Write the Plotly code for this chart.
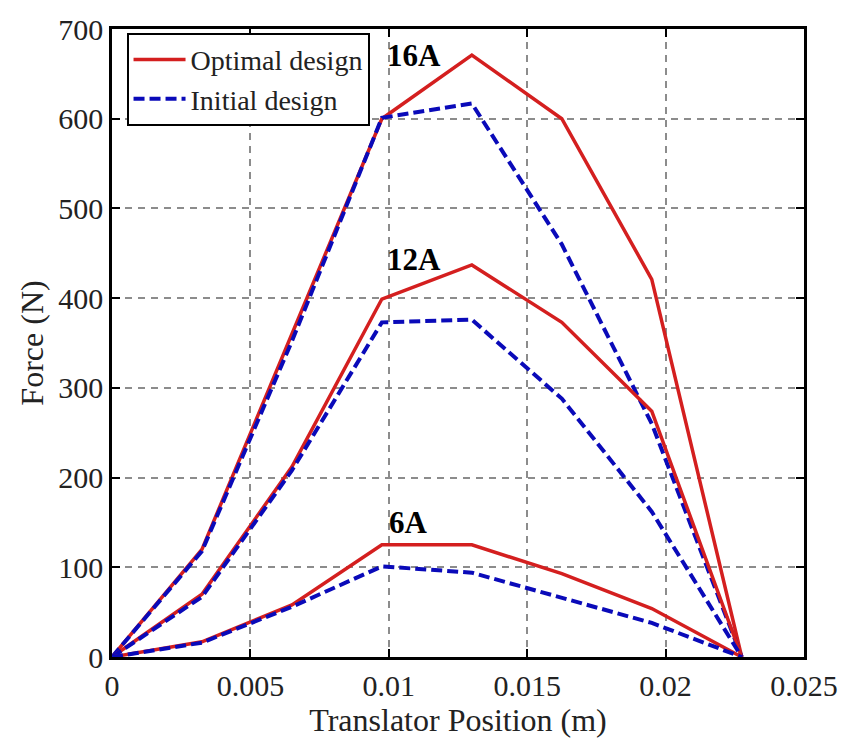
import plotly.graph_objects as go

# Data
position = [0, 0.00325, 0.0065, 0.00975, 0.013, 0.01625, 0.0195, 0.02275]
opt_16A = [0, 120, 360, 600, 671, 600, 421, 0]
ini_16A = [0, 118, 352, 601, 617, 460, 260, 0]
opt_12A = [0, 70, 212, 399, 437, 373, 274, 0]
ini_12A = [0, 67, 208, 373, 376, 288, 162, 0]
opt_6A = [0, 17, 58, 125, 125, 93, 54, 0]
ini_6A = [0, 16, 56, 101, 94, 66, 38, 0]

x_ticks = [0, 0.005, 0.01, 0.015, 0.02, 0.025]
x_tick_text = ["0", "0.005", "0.01", "0.015", "0.02", "0.025"]
y_ticks = [0, 100, 200, 300, 400, 500, 600, 700]

labels = ["16A", "12A", "6A"]
label_x = [0.0109, 0.0109, 0.0107]
label_y = [670, 443, 150]

RED = "#d41f1f"
BLUE = "#0a0ab9"
FONT = "Liberation Serif"

fig = go.Figure()
series = [(opt_16A, ini_16A), (opt_12A, ini_12A), (opt_6A, ini_6A)]
for i, (opt, ini) in enumerate(series):
    fig.add_trace(go.Scatter(
        x=position, y=opt, mode="lines", name="Optimal design",
        line=dict(color=RED, width=3.5), showlegend=(i == 0),
        legendgroup="opt"))
    fig.add_trace(go.Scatter(
        x=position, y=ini, mode="lines", name="Initial design",
        line=dict(color=BLUE, width=4, dash="11px,5px"), showlegend=(i == 0),
        legendgroup="ini"))

for t, lx, ly in zip(labels, label_x, label_y):
    fig.add_annotation(x=lx, y=ly, text="<b>%s</b>" % t, showarrow=False,
                       font=dict(family=FONT, size=31, color="black"),
                       xanchor="center", yanchor="middle")

axis_common = dict(
    showline=True, linecolor="black", linewidth=2.5, mirror="ticks",
    ticks="inside", ticklen=8, tickwidth=2, tickcolor="black",
    showgrid=True, gridcolor="#8c8c8c", gridwidth=2, griddash="7px,6px",
    zeroline=False,
    tickfont=dict(family=FONT, size=30, color="#222222"),
)

fig.update_xaxes(range=[0, 0.025], tickvals=x_ticks, ticktext=x_tick_text,
                 title=dict(text="Translator Position (m)",
                            font=dict(family=FONT, size=32, color="#222222"),
                            standoff=4),
                 **axis_common)
fig.update_yaxes(range=[0, 700], tickvals=y_ticks,
                 title=dict(text="Force (N)",
                            font=dict(family=FONT, size=32, color="#222222"),
                            standoff=6),
                 **axis_common)

fig.update_layout(
    width=850, height=753,
    margin=dict(l=112, r=38, t=17, b=96),
    paper_bgcolor="white", plot_bgcolor="white",
    showlegend=True,
    legend=dict(x=0.021, y=0.994, xanchor="left", yanchor="top",
                bordercolor="black", borderwidth=2, bgcolor="white",
                font=dict(family=FONT, size=28, color="#222222"),
                tracegroupgap=0, itemwidth=52),
)

fig.write_html("out.html")
